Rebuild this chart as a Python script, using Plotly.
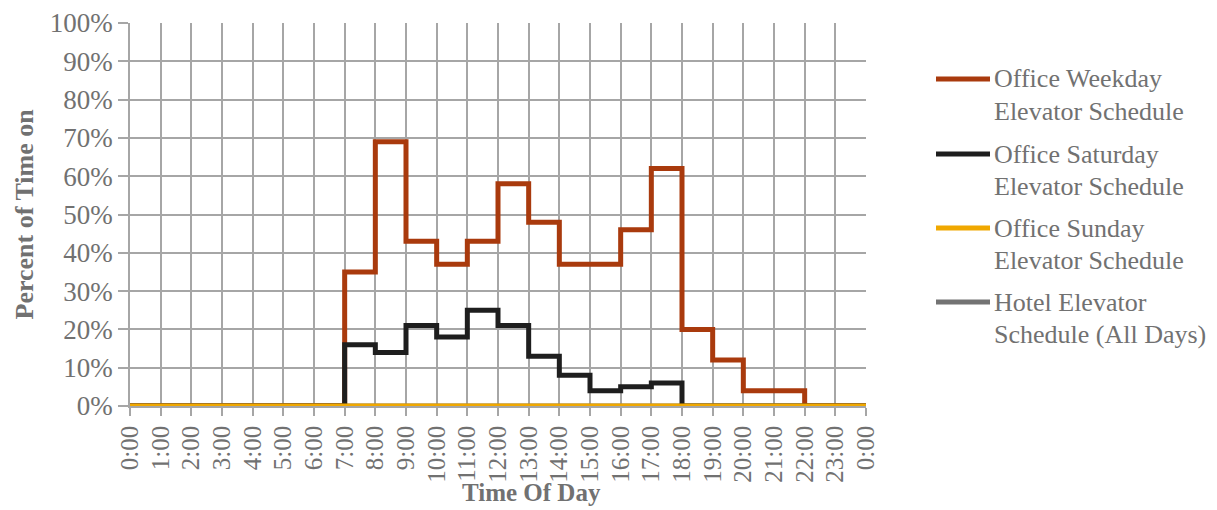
import plotly.graph_objects as go

# Hour boundaries (0..24) and hourly fractions of time the elevators run
hours = list(range(25))
hour_labels = [f"{h % 24}:00" for h in hours]

weekday = [0, 0, 0, 0, 0, 0, 0, 0.35, 0.69, 0.43, 0.37, 0.43, 0.58, 0.48,
           0.37, 0.37, 0.46, 0.62, 0.20, 0.12, 0.04, 0.04, 0, 0]
saturday = [0, 0, 0, 0, 0, 0, 0, 0.16, 0.14, 0.21, 0.18, 0.25, 0.21, 0.13,
            0.08, 0.04, 0.05, 0.06, 0, 0, 0, 0, 0, 0]
sunday = [0] * 24
hotel = [0] * 24

names = [("Office Weekday", "Elevator Schedule"),
         ("Office Saturday", "Elevator Schedule"),
         ("Office Sunday", "Elevator Schedule"),
         ("Hotel Elevator", "Schedule (All Days)")]
colors = ["#A93A0D", "#1E1E1E", "#F0A800", "#737373"]

FONT = "Liberation Serif, Times New Roman, serif"
GRAY = "#717171"
GRID = "#A6A6A6"

W, H = 1217, 510
ML, MR, MT, MB = 130, 351, 23, 104
PW, PH = W - ML - MR, H - MT - MB


def px_x(px):
    return (px - ML) / PW


def px_y(py):
    return (H - MB - py) / PH


fig = go.Figure()
# hv steps: repeat the last hourly value so the final hour is drawn
series = [weekday, saturday, sunday, hotel]
for i in [3, 0, 1, 2]:
    vals = series[i]
    fig.add_trace(go.Scatter(
        x=hours, y=vals + [vals[-1]], mode="lines", name=" ".join(names[i]),
        line=dict(color=colors[i], width=5, shape="hv"),
        cliponaxis=False, showlegend=False,
    ))

# Legend drawn as line samples plus two-line labels
shapes, annotations = [], []
legend_rows = [79, 154, 228, 302]
for i, row in enumerate(legend_rows):
    shapes.append(dict(type="line", xref="paper", yref="paper",
                       x0=px_x(936), x1=px_x(990), y0=px_y(row), y1=px_y(row),
                       line=dict(color=colors[i], width=5)))
    for k, line in enumerate(names[i]):
        annotations.append(dict(
            text=line, xref="paper", yref="paper",
            x=px_x(992), y=px_y(row + k * 32), xanchor="left", yanchor="middle",
            showarrow=False, font=dict(family=FONT, size=26, color=GRAY)))

annotations += [
    dict(text="<b>Time Of Day</b>", xref="paper", yref="paper",
         x=px_x(531), y=px_y(493), xanchor="center", yanchor="middle",
         showarrow=False, font=dict(family=FONT, size=25, color=GRAY)),
    dict(text="<b>Percent of Time on</b>", xref="paper", yref="paper",
         x=px_x(24), y=0.5, xanchor="center", yanchor="middle",
         textangle=-90, showarrow=False,
         font=dict(family=FONT, size=26, color=GRAY)),
]

fig.update_layout(
    width=W, height=H,
    margin=dict(l=ML, r=MR, t=MT, b=MB, autoexpand=False),
    paper_bgcolor="white", plot_bgcolor="white",
    font=dict(family=FONT, size=26, color=GRAY),
    showlegend=False,
    xaxis=dict(
        range=[0, 24], tickmode="array", tickvals=hours, ticktext=hour_labels,
        tickangle=-90, showgrid=True, gridcolor=GRID, gridwidth=1.5,
        ticks="outside", ticklen=8, tickcolor=GRID, tickwidth=1.5,
        showline=True, linecolor=GRID, linewidth=1.5, automargin=False,
        zeroline=False, tickfont=dict(family=FONT, size=25, color=GRAY),
    ),
    yaxis=dict(
        range=[0, 1], tickmode="array",
        tickvals=[i / 10 for i in range(11)], tickformat=".0%",
        showgrid=True, gridcolor=GRID, gridwidth=1.5,
        ticks="outside", ticklen=10, tickcolor=GRID, tickwidth=1.5,
        showline=True, linecolor=GRID, linewidth=1.5, automargin=False,
        zeroline=False, tickfont=dict(family=FONT, size=27, color=GRAY),
    ),
    shapes=shapes,
    annotations=annotations,
)

fig.write_html("out.html")
